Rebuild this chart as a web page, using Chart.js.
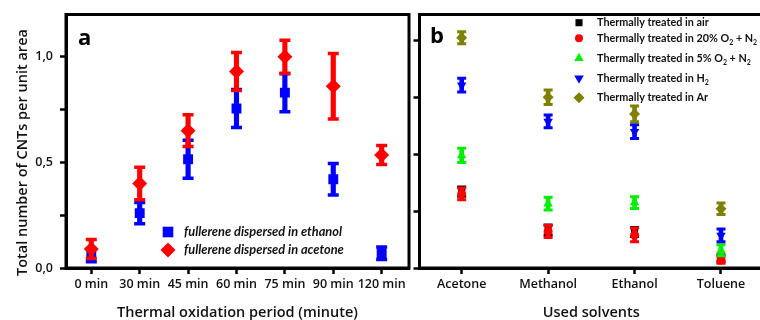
<!DOCTYPE html>
<html>
<head>
<meta charset="utf-8">
<script src="https://cdn.jsdelivr.net/npm/chart.js@4.4.1/dist/chart.umd.min.js"></script>
<style>
  html, body { margin: 0; padding: 0; background: #fff; }
  body { width: 760px; height: 320px; overflow: hidden; position: relative; }
  canvas { position: absolute; top: 0; }
  #chart-a { left: 0; }
  #chart-b { left: 404px; }
  .tag { position: absolute; font: 700 22px "Open Sans", sans-serif; line-height: 22px; color: #000; }
</style>
</head>
<body>
<canvas id="chart-a" width="418" height="320"></canvas>
<canvas id="chart-b" width="380" height="320"></canvas>
<div class="tag" style="left:78px;top:25px">a</div>
<div class="tag" style="left:430px;top:23px">b</div>
<script>
// ── Panel a data ─────────────────────────────────────────────────────────────
const periods      = ["0 min", "30 min", "45 min", "60 min", "75 min", "90 min", "120 min"];
const ethanolMean  = [0.06, 0.26, 0.515, 0.755, 0.83, 0.42, 0.07];
const ethanolErr   = [0.03, 0.05, 0.09, 0.09, 0.09, 0.075, 0.03];
const acetoneMean  = [0.09, 0.40, 0.65, 0.93, 1.00, 0.86, 0.535];
const acetoneErr   = [0.045, 0.077, 0.075, 0.09, 0.078, 0.155, 0.045];
const yTicksA      = [0, 0.25, 0.5, 0.75, 1.0];
const yLabelsA     = ["0,0", "", "0,5", "", "1,0"];

// ── Panel b data ─────────────────────────────────────────────────────────────
const solvents = ["Acetone", "Methanol", "Ethanol", "Toluene"];
const airMean  = [0.335, 0.167, 0.158, 0.042];
const airErr   = [0.02, 0.022, 0.02, 0.015];
const o20Mean  = [0.325, 0.160, 0.145, 0.036];
const o20Err   = [0.026, 0.026, 0.03, 0.015];
const o5Mean   = [0.494, 0.282, 0.287, 0.078];
const o5Err    = [0.031, 0.028, 0.026, 0.024];
const h2Mean   = [0.802, 0.643, 0.598, 0.143];
const h2Err    = [0.03, 0.028, 0.03, 0.028];
const arMean   = [1.010, 0.749, 0.676, 0.260];
const arErr    = [0.026, 0.032, 0.035, 0.025];
const yTicksB  = [0, 0.25, 0.5, 0.75, 1.0];

const FONT = "'Open Sans', sans-serif";
const INK = "#111";

// ── Helpers ──────────────────────────────────────────────────────────────────

// every series = floating bar (error range) + caps + marker, later series on top
let drawOrder = 1000;
function errorSeries(means, errs, color, m) {
  const idx = means.map((_, i) => i);
  return [
    {
      type: "bar",
      data: idx.map((i) => ({ x: i, y: [means[i] - errs[i], means[i] + errs[i]] })),
      backgroundColor: color, borderWidth: 0, grouped: false,
      barThickness: m.bar, maxBarThickness: m.bar, order: drawOrder--
    },
    {
      type: "scatter",
      data: idx.flatMap((i) => [{ x: i, y: means[i] - errs[i] }, { x: i, y: means[i] + errs[i] }]),
      pointStyle: "line", pointRadius: m.cap, pointBorderColor: color,
      pointBorderWidth: m.capWidth, order: drawOrder--
    },
    {
      type: "scatter",
      data: idx.map((i) => ({ x: i, y: means[i] })),
      pointStyle: m.style, pointRadius: m.radius, pointRotation: m.rotation || 0,
      pointBackgroundColor: color, pointBorderWidth: 0, order: drawOrder--
    }
  ];
}

const frame = {
  id: "frame",
  beforeDatasetsDraw(chart) {
    const { ctx, chartArea: a } = chart;
    ctx.save();
    ctx.lineWidth = 3;
    ctx.strokeStyle = "#000";
    ctx.strokeRect(a.left, a.top, a.right - a.left, a.bottom - a.top);
    ctx.restore();
  }
};

const keyLegend = {
  id: "keyLegend",
  afterDatasetsDraw(chart, args, opts) {
    if (!opts.items) return;
    const ctx = chart.ctx;
    ctx.save();
    opts.items.forEach((it, i) => {
      const y = opts.rows[i];
      ctx.fillStyle = it.color;
      Chart.helpers.drawPoint(ctx, { pointStyle: it.style, radius: it.radius, rotation: it.rotation || 0, borderWidth: 0 }, opts.markerX, y);
      ctx.fillStyle = opts.color;
      ctx.textBaseline = "middle";
      ctx.textAlign = "left";
      let x = opts.textX;
      for (const seg of it.text) {
        const sub = seg.startsWith("_");
        const t = sub ? seg.slice(1) : seg;
        ctx.font = sub ? opts.subFont : opts.font;
        ctx.fillText(t, x, sub ? y + 4 : y);
        x += ctx.measureText(t).width;
      }
    });
    ctx.restore();
  }
};

function xScale(labels, min, max) {
  return {
    type: "linear", min, max, offset: false,
    afterBuildTicks: (s) => { s.ticks = labels.map((_, i) => ({ value: i })); },
    afterFit: (s) => { s.height = 52; },
    ticks: { callback: (v) => labels[v], font: { family: FONT, size: 12.5, weight: "600" }, color: INK, padding: 3, maxRotation: 0, autoSkip: false },
    grid: { drawOnChartArea: false, tickLength: 6, tickWidth: 2.5, tickColor: "#000", offset: false },
    border: { width: 3, color: "#000" }
  };
}

function yScale(ticks, max) {
  return {
    type: "linear", min: 0, max,
    afterBuildTicks: (s) => { s.ticks = ticks.map((v) => ({ value: v })); },
    grid: { drawOnChartArea: false, tickLength: 6, tickWidth: 2.5, tickColor: "#000" },
    border: { width: 3, color: "#000" }
  };
}

const titleFont = { family: FONT, size: 14.5, weight: "600" };

// ── Panel a ──────────────────────────────────────────────────────────────────
const sxA = xScale(periods, -0.523, 6.565);
sxA.title = { display: true, text: "Thermal oxidation period (minute)", font: titleFont, color: INK, padding: { top: 0, bottom: -2 } };
const syA = yScale(yTicksA, 1.2);
syA.afterFit = (s) => { s.width = 66; };
syA.ticks = { callback: (v, i) => yLabelsA[i], font: { family: FONT, size: 12.5, weight: "600" }, color: INK, padding: 7 };
syA.title = { display: true, text: "Total number of CNTs per unit area      ", font: titleFont, color: INK, padding: { top: 14.5, bottom: 0 } };

new Chart(document.getElementById("chart-a"), {
  type: "scatter",
  data: {
    datasets: [
      ...errorSeries(ethanolMean, ethanolErr, "#0000ff", { bar: 4.5, cap: 5.5, capWidth: 3.5, style: "rect", radius: 7 }),
      ...errorSeries(acetoneMean, acetoneErr, "#ff0000", { bar: 4.5, cap: 5.5, capWidth: 3.5, style: "rectRot", radius: 7.5 })
    ]
  },
  options: {
    responsive: false, animation: false, events: [],
    layout: { padding: { top: 14.5, right: 3.5, left: 0, bottom: 0 } },
    scales: { x: sxA, y: syA },
    plugins: {
      legend: { display: false }, tooltip: { enabled: false },
      keyLegend: {
        markerX: 168, textX: 184, rows: [232, 250], color: INK,
        font: "italic bold 12.8px Lato", subFont: "bold 8px Lato",
        items: [
          { style: "rect", radius: 7.5, color: "#0000ff", text: ["fullerene dispersed in ethanol"] },
          { style: "rectRot", radius: 7.5, color: "#ff0000", text: ["fullerene dispersed in acetone"] }
        ]
      }
    }
  },
  plugins: [frame, keyLegend]
});

// ── Panel b ──────────────────────────────────────────────────────────────────
const sxB = xScale(solvents, -0.488, 3.486);
sxB.title = { display: true, text: "Used solvents", font: titleFont, color: INK, padding: { top: 0, bottom: -2 } };
const syB = yScale(yTicksB, 1.112);
syB.afterFit = (s) => { s.width = 15.5; };
syB.ticks = { display: false };

const mB = { bar: 4, cap: 4.5, capWidth: 3 };
new Chart(document.getElementById("chart-b"), {
  type: "scatter",
  data: {
    datasets: [
      ...errorSeries(airMean, airErr, "#000000", { ...mB, style: "rect", radius: 5 }),
      ...errorSeries(o20Mean, o20Err, "#ff0000", { ...mB, style: "circle", radius: 4.5 }),
      ...errorSeries(o5Mean, o5Err, "#00ee00", { ...mB, style: "triangle", radius: 5.5 }),
      ...errorSeries(h2Mean, h2Err, "#0000ff", { ...mB, style: "triangle", radius: 5.5, rotation: 180 }),
      ...errorSeries(arMean, arErr, "#808000", { ...mB, style: "rectRot", radius: 5.5 })
    ]
  },
  options: {
    responsive: false, animation: false, events: [],
    layout: { padding: { top: 14.5, right: 21, left: 0, bottom: 0 } },
    scales: { x: sxB, y: syB },
    plugins: {
      legend: { display: false }, tooltip: { enabled: false },
      keyLegend: {
        markerX: 175, textX: 193, rows: [22.7, 38.3, 58.3, 78.3, 97.7], color: INK,
        font: "bold 10.8px Lato", subFont: "bold 7px Lato",
        items: [
          { style: "rect", radius: 5, color: "#000000", text: ["Thermally treated in air"] },
          { style: "circle", radius: 4, color: "#ff0000", text: ["Thermally treated in 20% O", "_2", " + N", "_2"] },
          { style: "triangle", radius: 5.5, color: "#00ee00", text: ["Thermally treated in 5% O", "_2", " + N", "_2"] },
          { style: "triangle", radius: 5.5, rotation: 180, color: "#0000ff", text: ["Thermally treated in H", "_2"] },
          { style: "rectRot", radius: 5.5, color: "#808000", text: ["Thermally treated in Ar"] }
        ]
      }
    }
  },
  plugins: [frame, keyLegend]
});
</script>
</body>
</html>
